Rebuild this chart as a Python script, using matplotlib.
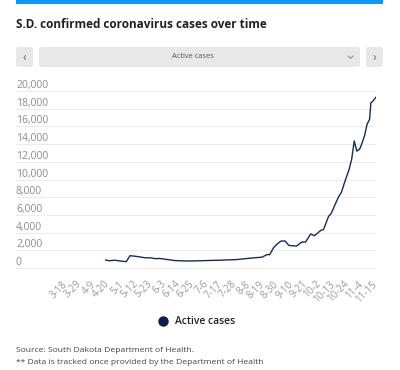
import numpy as np
import pandas as pd
import matplotlib.pyplot as plt
import matplotlib.dates as mdates
from matplotlib.patches import Rectangle, FancyBboxPatch
from matplotlib.lines import Line2D

plt.rcParams['font.family'] = ['Open Sans', 'DejaVu Sans']

# Daten (aktive Fälle)
dates = ['2020-04-18', '2020-04-21', '2020-04-25', '2020-04-29', '2020-05-04',
         '2020-05-07', '2020-05-11', '2020-05-19', '2020-05-23', '2020-05-27',
         '2020-05-30', '2020-06-03', '2020-06-11', '2020-06-21', '2020-07-01',
         '2020-07-08', '2020-07-16', '2020-07-29', '2020-08-11', '2020-08-18',
         '2020-08-22', '2020-08-24', '2020-08-27', '2020-08-30', '2020-09-02',
         '2020-09-05', '2020-09-08', '2020-09-14', '2020-09-18', '2020-09-21',
         '2020-09-25', '2020-09-28', '2020-10-03', '2020-10-05', '2020-10-09',
         '2020-10-11', '2020-10-14', '2020-10-17', '2020-10-19', '2020-10-22',
         '2020-10-25', '2020-10-27', '2020-10-29', '2020-10-31', '2020-11-02',
         '2020-11-03', '2020-11-06', '2020-11-08', '2020-11-10', '2020-11-11',
         '2020-11-12', '2020-11-15']
active = [900, 820, 880, 800, 720,
          1390, 1330, 1150, 1150, 1050,
          1080, 1000, 840, 790, 820,
          850, 880, 950, 1140, 1220,
          1520, 1500, 2290, 2740, 3050,
          3050, 2550, 2480, 2930, 2930,
          3850, 3650, 4260, 4340, 5840,
          6150, 7160, 8100, 8550, 9900,
          11140, 12270, 14350, 13210, 13400,
          13670, 14910, 16230, 16800, 18680,
          18760, 19300]

tick_dates = ['3-18', '3-29', '4-9', '4-20', '5-1', '5-12', '5-23', '6-3', '6-14',
              '6-25', '7-6', '7-17', '7-28', '8-8', '8-19', '8-30', '9-10', '9-21',
              '10-2', '10-13', '10-24', '11-4', '11-15']
y_ticks = [0, 2000, 4000, 6000, 8000, 10000, 12000, 14000, 16000, 18000, 20000]

title = 'S.D. confirmed coronavirus cases over time'
dropdown = 'Active cases'
legend_label = 'Active cases'
source = 'Source: South Dakota Department of Health.'
note = '** Data is tracked once provided by the Department of Health'

x = pd.to_datetime(dates)
xt = pd.to_datetime(['2020-' + t for t in tick_dates])

W, H = 400, 370
fig = plt.figure(figsize=(4, 3.7), dpi=100)


def fx(px):
    return px / W


def fy(py):
    return 1 - py / H


# blauer Balken oben
fig.add_artist(Rectangle((fx(16), fy(4)), fx(367), 4 / H, transform=fig.transFigure,
                         color='#0a98fb', lw=0))
fig.text(fx(16), fy(24), title, fontsize=8.5, fontweight='bold', color='#222222',
         va='center', ha='left')

# Buttons
for x0, x1 in [(16, 33), (39, 360), (366, 383)]:
    fig.add_artist(FancyBboxPatch((fx(x0), fy(67)), fx(x1 - x0), 20 / H,
                                  boxstyle='round,pad=0,rounding_size=0.006',
                                  transform=fig.transFigure, fc='#e8e8e8', ec='none'))
fig.text(fx(24.5), fy(57.5), '‹', fontsize=8.5, color='#666666', ha='center', va='center')
fig.text(fx(374.5), fy(57.5), '›', fontsize=8.5, color='#666666', ha='center', va='center')
fig.text(fx(193), fy(57), dropdown, fontsize=5.4, color='#555555', ha='center', va='center')
fig.add_artist(Line2D([fx(348), fx(350.5), fx(353)], [fy(56), fy(58.3), fy(56)],
                      transform=fig.transFigure, color='#777777', lw=0.6))

# Plot
ymin, ymax = -400, 20400
px_per = 177 / 20000
bottom_px = 268 + 400 * px_per
top_px = 91 - 400 * px_per
ax = fig.add_axes([fx(16), fy(bottom_px), fx(360), (bottom_px - top_px) / H])
ax.plot(x, active, color='#1b2a4e', lw=1.0)

ax.set_ylim(ymin, ymax)
ax.set_yticks(y_ticks)
ax.set_yticklabels([f'{v:,}' for v in y_ticks])
ax.set_xlim(pd.Timestamp('2020-03-18') - pd.Timedelta(days=39), pd.Timestamp('2020-11-15'))
ax.set_xticks(xt)
ax.set_xticklabels(tick_dates)

ax.grid(axis='y', color='#ececec', lw=0.8)
ax.set_axisbelow(True)
for s in ax.spines.values():
    s.set_visible(False)
ax.tick_params(axis='y', length=0, pad=0, labelsize=7.5, labelcolor='#8c8c8c')
ax.tick_params(axis='x', length=0, pad=8, labelsize=7.0, labelcolor='#999999')
for lbl in ax.get_yticklabels():
    lbl.set_ha('left')
    lbl.set_va('bottom')
for lbl in ax.get_xticklabels():
    lbl.set_rotation(45)
    lbl.set_ha('right')
    lbl.set_va('center')
    lbl.set_rotation_mode('anchor')

# Legende
handle = Line2D([], [], marker='o', color='none', markerfacecolor='#0f1f45',
                markeredgecolor='#0f1f45', markersize=6.5)
fig.legend([handle], [legend_label], loc='center', bbox_to_anchor=(fx(194), fy(322)),
           frameon=False, handletextpad=0.2, borderpad=0,
           prop={'size': 7.4, 'weight': 'semibold'}, labelcolor='#222222')

fig.text(fx(16), fy(350), source, fontsize=6.1, color='#444444', va='center')
fig.text(fx(16), fy(363), note, fontsize=6.1, color='#444444', va='center')

fig.savefig('out.png', dpi=100, facecolor='white')
